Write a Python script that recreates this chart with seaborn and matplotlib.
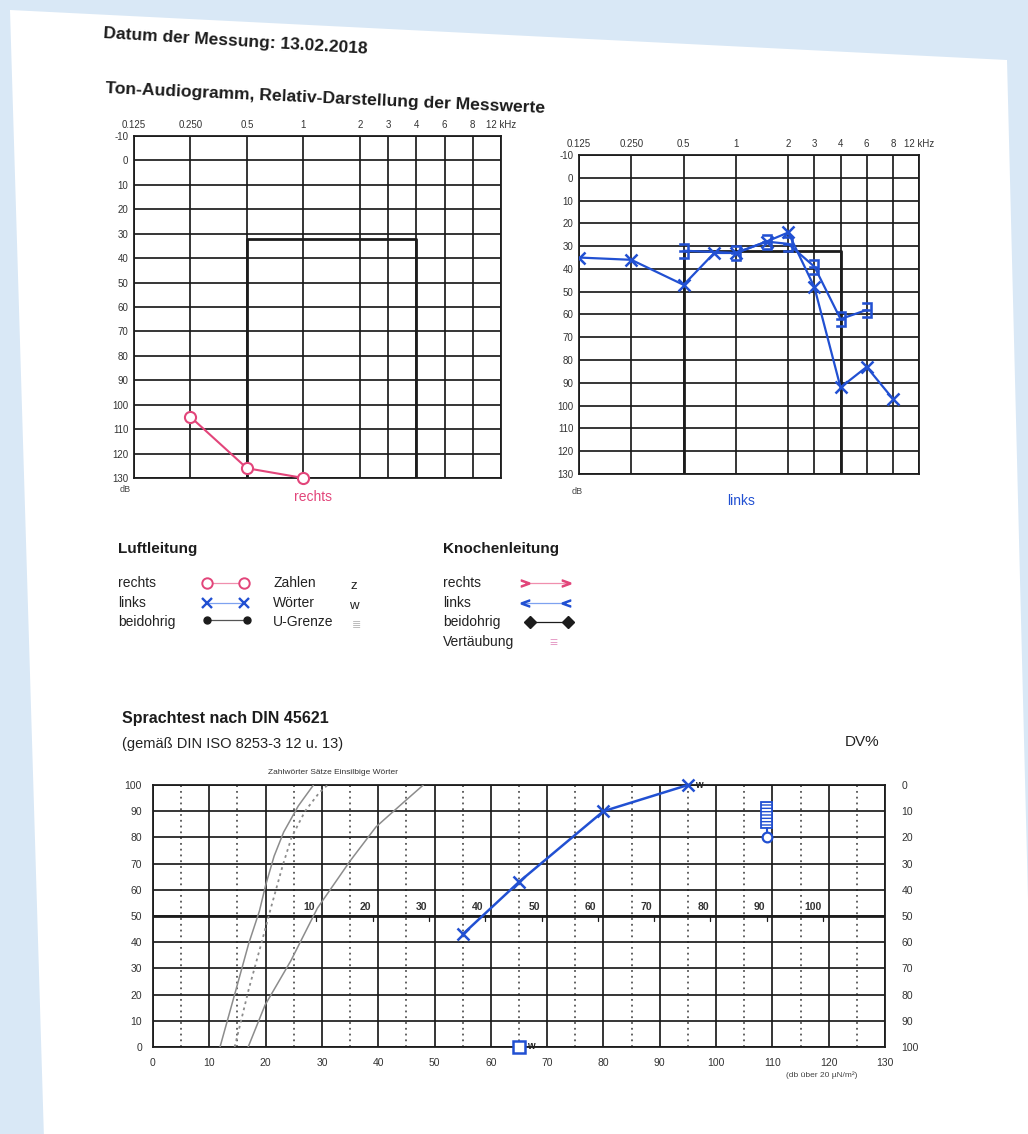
import numpy as np
import pandas as pd
import matplotlib
matplotlib.use("Agg")
import matplotlib.pyplot as plt
from matplotlib.patches import Polygon
from matplotlib import font_manager
import seaborn as sns

sns.set_theme(style="white")
NAMES = {f.name for f in font_manager.fontManager.ttflist}
NARROW = "Liberation Sans Narrow" if "Liberation Sans Narrow" in NAMES else "Liberation Sans"
plt.rcParams["font.family"] = ["Liberation Sans", "DejaVu Sans"]
plt.rcParams["axes.unicode_minus"] = False

W, H = 1028, 1134
INK = "#1c1c1c"
PINK = "#e2457a"
BLUE = "#2150d2"
GREY = "#8c8c8c"

# ---------------- data ----------------
FREQ_TICKS = [0.125, 0.25, 0.5, 1, 2, 3, 4, 6, 8, 12]
FREQ_LABELS = ["0.125", "0.250", "0.5", "1", "2", "3", "4", "6", "8", "12 kHz"]
DB_TICKS = list(range(-10, 131, 10))

# Luftleitung rechts
rechts_freq = [0.25, 0.5, 1]
rechts_db = [105, 126, 130]

# Luftleitung links
links_freq = [0.125, 0.25, 0.5, 0.75, 1, 1.5, 2, 3, 4, 6, 8]
links_db = [35, 36, 47, 33, 33, 28, 24, 48, 92, 83, 97]

# Knochenleitung links
links_kl_freq = [0.5, 1, 1.5, 2, 3, 4, 6]
links_kl_db = [32, 33, 28, 29, 39, 62, 58]

# Sprachbereich (Rahmen)
rahmen_freq = [0.5, 0.5, 4, 4]
rahmen_db = [130, 32, 32, 130]

# Sprachtest: Normkurven
zahl_db = [11.9, 14.7, 17.0, 18.9, 20.0, 21.5, 23.2, 25.8, 28.5]
zahl_pct = [0, 21.6, 39.5, 51.9, 61.7, 72.8, 82, 92, 100]
saetze_db = [14.5, 17.0, 19.3, 20.8, 23.0, 24.6, 27.0, 29.5, 31.0]
saetze_pct = [0, 22, 40, 52, 69, 80, 90, 97, 100]
einsilb_db = [16.9, 19.9, 24.5, 29.2, 35.0, 39.6, 44.3, 48.0]
einsilb_pct = [0, 16, 33, 53, 71, 84, 93, 100]

# Sprachtest: Messwerte Wörter
woerter_db = [55, 65, 80, 95]
woerter_pct = [43, 63, 90, 100]
quadrat_db = [65]
quadrat_pct = [0]
ugrenze_db = [109]
ugrenze_pct = [80]
ugrenze_von, ugrenze_bis = 83.5, 93.5

SPEECH_X = list(range(0, 131, 10))
SPEECH_Y = list(range(0, 101, 10))
HV_LABELS = [10, 20, 30, 40, 50, 60, 70, 80, 90, 100]
HV_OFFSET = 19
DV_TICKS = list(range(0, 101, 10))

# ---------------- audiogram x scale ----------------
POS_F = np.log2(np.array(FREQ_TICKS) / 0.125)
POS_X = [0, 1, 2, 3, 4, 4.5, 5, 5.5, 6, 6.5]


def f_fwd(f):
    f = np.clip(np.asarray(f, dtype=float), 1e-3, None)
    return np.interp(np.log2(f / 0.125), POS_F, POS_X)


def f_inv(p):
    return 0.125 * 2 ** np.interp(np.asarray(p, dtype=float), POS_X, POS_F)


fig = plt.figure(figsize=(W / 100, H / 100), dpi=100)

bg = fig.add_axes([0, 0, 1, 1])
bg.set_xlim(0, W)
bg.set_ylim(H, 0)
bg.axis("off")
bg.add_patch(Polygon([(0, 0), (W, 0), (W, H), (0, H)], color="#d9e8f6", zorder=0))
bg.add_patch(Polygon([(10, 10), (1007, 60), (1034, H + 5), (44, H + 5)],
                     facecolor="white", edgecolor="none", zorder=1))


def px_axes(x0, y0, x1, y1):
    return fig.add_axes([x0 / W, 1 - y1 / H, (x1 - x0) / W, (y1 - y0) / H])


def audiogram(ax):
    ax.set_xscale("function", functions=(f_fwd, f_inv))
    ax.set_xlim(0.125, 12)
    ax.set_ylim(130, -10)
    ax.set_xticks(FREQ_TICKS)
    ax.set_xticklabels(FREQ_LABELS)
    ax.set_yticks(DB_TICKS)
    ax.xaxis.tick_top()
    ax.minorticks_off()
    ax.tick_params(length=0, labelsize=7, colors="#333333", pad=4)
    for lab in ax.get_xticklabels() + ax.get_yticklabels():
        lab.set_family([NARROW, "DejaVu Sans"])
    ax.grid(True, color=INK, lw=1.25)
    for s in ax.spines.values():
        s.set_color(INK)
        s.set_linewidth(1.3)
    ax.plot(rahmen_freq, rahmen_db, color=INK, lw=2.0, zorder=3)


# ---------- left audiogram (rechts) ----------
ax1 = px_axes(134, 136, 501, 478)
audiogram(ax1)
df_r = pd.DataFrame({"f": rechts_freq, "db": rechts_db})
sns.lineplot(data=df_r, x="f", y="db", ax=ax1, sort=False, estimator=None,
             color=PINK, lw=1.5, marker="o", markersize=8,
             markerfacecolor="white", markeredgecolor=PINK, markeredgewidth=1.5,
             zorder=5, clip_on=False)
ax1.set_xlabel("")
ax1.set_ylabel("")

# ---------- right audiogram (links) ----------
ax2 = px_axes(579, 155, 919, 474)
audiogram(ax2)
df_l = pd.DataFrame({"f": links_freq, "db": links_db})
df_k = pd.DataFrame({"f": links_kl_freq, "db": links_kl_db})
sns.lineplot(data=df_l, x="f", y="db", ax=ax2, sort=False, estimator=None,
             color=BLUE, lw=1.6, marker="x", markersize=9,
             markeredgecolor=BLUE, markeredgewidth=1.8, zorder=5)
sns.lineplot(data=df_k, x="f", y="db", ax=ax2, sort=False, estimator=None,
             color=BLUE, lw=1.6, marker=r"$\exists$", markersize=11,
             markeredgecolor=BLUE, markerfacecolor=BLUE, markeredgewidth=0.4, zorder=5)
ax2.set_xlabel("")
ax2.set_ylabel("")

# ---------- speech test ----------
ax3 = px_axes(153, 785, 885, 1047)
ax3.set_xlim(0, 130)
ax3.set_ylim(0, 100)
ax3.set_xticks(SPEECH_X)
ax3.set_yticks(SPEECH_Y)
ax3.set_xticks([v + 5 for v in SPEECH_X[:-1]], minor=True)
ax3.grid(which="major", color=INK, lw=1.25)
ax3.grid(which="minor", axis="x", color="#555555", lw=1.3, ls=(0, (1, 2.2)))
ax3.tick_params(which="both", length=0, labelsize=7.5, colors="#333333", pad=8)
for lab in ax3.get_xticklabels() + ax3.get_yticklabels():
    lab.set_family([NARROW, "DejaVu Sans"])
for s in ax3.spines.values():
    s.set_color(INK)
    s.set_linewidth(1.3)
ax3.axhline(50, color=INK, lw=2.0, zorder=3)

for n in HV_LABELS:
    ax3.text(n + HV_OFFSET - 0.3, 51.5, str(n), ha="right", va="bottom",
             fontsize=7.5, fontweight="bold", color="#333333", zorder=4)
    ax3.plot([n + HV_OFFSET, n + HV_OFFSET], [50, 48.2], color=INK, lw=0.9, zorder=4)

ax3.plot(zahl_db, zahl_pct, color=GREY, lw=1.1, zorder=3)
ax3.plot(saetze_db, saetze_pct, color=GREY, lw=1.3, ls=(0, (1.5, 2)), zorder=3)
ax3.plot(einsilb_db, einsilb_pct, color=GREY, lw=1.1, zorder=3)
ax3.text(32, 103.5, "Zahlwörter Sätze Einsilbige Wörter", ha="center", va="bottom",
         fontsize=6, color="#333333")

df_w = pd.DataFrame({"db": woerter_db, "pct": woerter_pct})
sns.lineplot(data=df_w, x="db", y="pct", ax=ax3, sort=False, estimator=None,
             color=BLUE, lw=1.8, marker="x", markersize=9,
             markeredgecolor=BLUE, markeredgewidth=1.8, zorder=6, clip_on=False)
ax3.text(woerter_db[-1] + 1.2, woerter_pct[-1], "w", fontsize=7, fontweight="bold",
         va="center", color="#222222", clip_on=False)
ax3.plot(quadrat_db, quadrat_pct, ls="none", marker="s", ms=9, mfc="white",
         mec=BLUE, mew=1.8, zorder=6, clip_on=False)
ax3.text(quadrat_db[0] + 1.5, quadrat_pct[0] + 0.5, "w", fontsize=7, fontweight="bold",
         va="center", color="#222222")
ax3.bar(ugrenze_db, ugrenze_bis - ugrenze_von, bottom=ugrenze_von, width=2.0,
        facecolor="white", edgecolor=BLUE, hatch="-----", lw=1.3, zorder=6)
ax3.plot([ugrenze_db[0], ugrenze_db[0]], [ugrenze_pct[0], ugrenze_von], color=BLUE, lw=1.5, zorder=6)
ax3.plot(ugrenze_db, ugrenze_pct, ls="none", marker="o", ms=7, mfc="white",
         mec=BLUE, mew=1.6, zorder=7)
ax3.set_xlabel("")
ax3.set_ylabel("")

ax4 = ax3.twinx()
ax4.set_ylim(100, 0)
ax4.set_yticks(DV_TICKS)
ax4.tick_params(length=0, labelsize=7.5, colors="#333333", pad=12)
for lab in ax4.get_yticklabels():
    lab.set_family([NARROW, "DejaVu Sans"])
ax4.grid(False)
for s in ax4.spines.values():
    s.set_visible(False)

# ---------- texts on the page ----------
bg.text(103, 34, "Datum der Messung: 13.02.2018", fontsize=12.5, fontweight="bold",
        color=INK, ha="left", va="center", rotation=-3.4, rotation_mode="anchor",
        family=[NARROW, "Liberation Sans"], zorder=3)
bg.text(105, 89, "Ton-Audiogramm, Relativ-Darstellung der Messwerte", fontsize=12.6,
        fontweight="bold", color=INK, ha="left", va="center", rotation=-2.6,
        rotation_mode="anchor", family=[NARROW, "Liberation Sans"], zorder=3)
bg.text(313, 497, "rechts", fontsize=10, color=PINK, ha="center", va="center", zorder=3)
bg.text(741, 501, "links", fontsize=10, color=BLUE, ha="center", va="center", zorder=3)
bg.text(125, 489, "dB", fontsize=6.5, color="#444444", ha="center", va="center", zorder=3)
bg.text(577, 491, "dB", fontsize=6.5, color="#444444", ha="center", va="center", zorder=3)

# legend block
bg.text(118, 549, "Luftleitung", fontsize=11, fontweight="bold", color=INK, va="center", zorder=3)
bg.text(443, 549, "Knochenleitung", fontsize=11, fontweight="bold", color=INK, va="center", zorder=3)
rows = [583, 603, 622]
for y, t in zip(rows, ["rechts", "links", "beidohrig"]):
    bg.text(118, y, t, fontsize=10, color="#222222", va="center", zorder=3)
for y, t in zip(rows, ["Zahlen", "Wörter", "U-Grenze"]):
    bg.text(273, y, t, fontsize=10, color="#222222", va="center", zorder=3)
for y, t in zip(rows + [642], ["rechts", "links", "beidohrig", "Vertäubung"]):
    bg.text(443, y, t, fontsize=10, color="#222222", va="center", zorder=3)
bg.text(354, rows[0] + 3, "z", fontsize=9.5, color="#222222", va="center", ha="center", zorder=3)
bg.text(354, rows[1] + 3, "w", fontsize=9.5, color="#222222", va="center", ha="center", zorder=3)
bg.text(357, rows[2] + 3, "≣", fontsize=8, color="#b8b8b8", va="center", ha="center", zorder=3)
bg.text(553, 643, "≡", fontsize=10, color="#e6a0c8", va="center", ha="center", zorder=3)

bg.plot([207, 244], [rows[0], rows[0]], color="#f08fae", lw=0.9, marker="o", ms=7.5,
        mfc="white", mec=PINK, mew=1.4, zorder=3)
bg.plot([207, 244], [rows[1], rows[1]], color="#7ea2f0", lw=0.9, marker="x", ms=7.5,
        mec=BLUE, mew=1.7, zorder=3)
bg.plot([207, 247], [rows[2] - 2, rows[2] - 2], color="#555555", lw=0.9, marker="o", ms=5,
        mfc=INK, mec=INK, zorder=3)
bg.plot([525, 566], [rows[0], rows[0]], color="#f08fae", lw=0.9, marker=r"$>$", ms=6,
        mec=PINK, mfc=PINK, zorder=3)
bg.plot([525, 566], [rows[1], rows[1]], color="#7ea2f0", lw=0.9, marker=r"$<$", ms=6,
        mec=BLUE, mfc=BLUE, zorder=3)
bg.plot([530, 568], [rows[2], rows[2]], color=INK, lw=0.9, marker="D", ms=6,
        mfc=INK, mec=INK, zorder=3)

bg.text(122, 718, "Sprachtest nach DIN 45621", fontsize=11.5, fontweight="bold",
        color=INK, va="center", zorder=3)
bg.text(122, 744, "(gemäß DIN ISO 8253-3 12 u. 13)", fontsize=10.5, color="#222222",
        va="center", zorder=3)
bg.text(862, 742, "DV%", fontsize=11, color="#222222", va="center", ha="center", zorder=3)
bg.text(822, 1075, "(db über 20 µN/m²)", fontsize=6, color="#444444", va="center",
        ha="center", zorder=3)

fig.savefig("out.png", dpi=100)
